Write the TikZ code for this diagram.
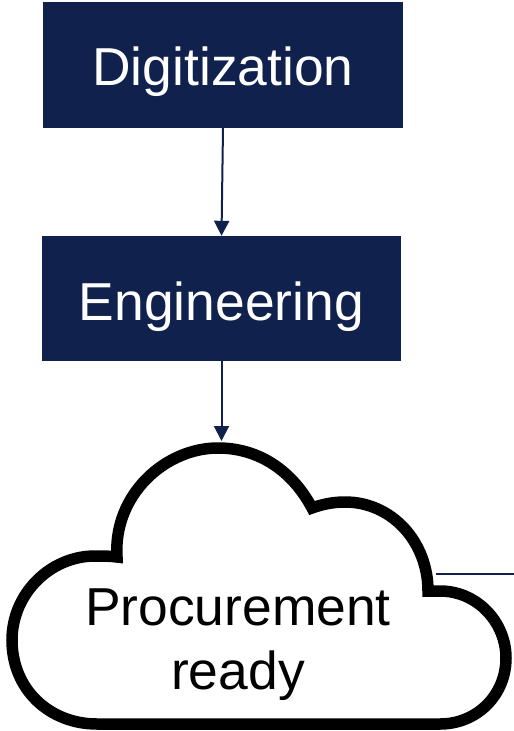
\documentclass[tikz,border=0pt]{standalone}
\usepackage{fontspec}
\setmainfont{Liberation Sans}
\usetikzlibrary{arrows.meta}
\definecolor{navy}{HTML}{10214E}
\tikzset{
  stagebox/.style={fill=navy,draw=none,inner sep=0pt,text=white,minimum height=126pt,font=\fontsize{53.4}{60}\selectfont,text depth=0pt},
  flow/.style={draw=navy,line width=2pt,-{Triangle[width=15pt,length=15pt]}},
  plainline/.style={draw=navy,line width=2pt},
  cloudline/.style={draw=black,fill=white,line width=11.5pt,miter limit=10,line join=miter}
}
\begin{document}
\begin{tikzpicture}[x=1pt,y=-1pt]
\useasboundingbox (0,0) rectangle (514,731);
\node[stagebox,minimum width=360pt,text height=40pt] (dig) at (223,65) {Digitization};
\node[stagebox,minimum width=359pt,minimum height=125pt,text height=43pt] (eng) at (221.5,298.5) {Engineering};
\draw[cloudline] (117,557) .. controls (113,495) and (165,448) .. (218,448)
  .. controls (260,448) and (293,472) .. (312,508)
  .. controls (323,504) and (334,502) .. (345,502)
  .. controls (392,502) and (428,542) .. (428,591)
  -- (440,591)
  .. controls (477,591) and (506,622) .. (506,658)
  .. controls (506,695) and (477,724) .. (440,724)
  -- (97,724)
  .. controls (50,724) and (12,690) .. (12,640)
  .. controls (12,594) and (50,556) .. (95,556)
  .. controls (103,556) and (110,556) .. (117,557) -- cycle;
\coordinate (cloudtop) at (221.5,441);
\coordinate (cloudright) at (436,574);
\coordinate (offpage) at (514,574);
\node[inner sep=0pt,align=center,text=black,font=\fontsize{53.4}{64}\selectfont] (proc) at (238,645) {Procurement\\ready};
\draw[flow] (dig.south -| 223,128) -- (eng.north);
\draw[flow] (eng.south) -- (cloudtop);
\draw[plainline] (cloudright) -- (offpage);
\end{tikzpicture}
\end{document}
